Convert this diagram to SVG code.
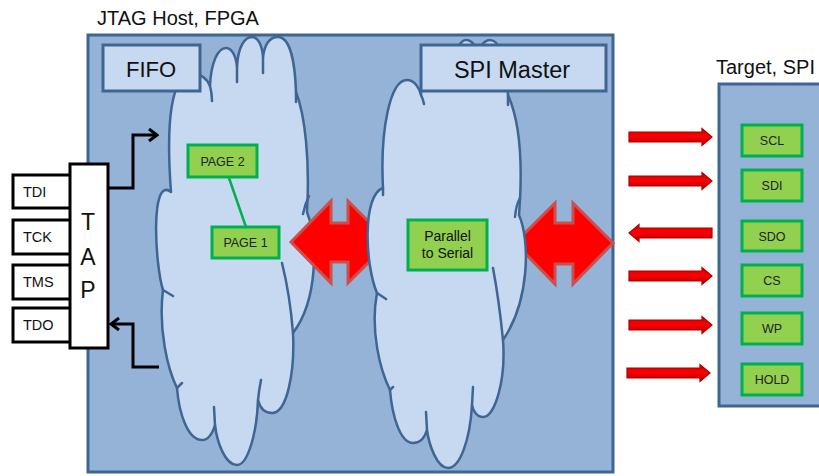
<svg xmlns="http://www.w3.org/2000/svg" xmlns:xlink="http://www.w3.org/1999/xlink" width="819" height="476" viewBox="0 0 819 476">
<style>
text{font-family:"Liberation Sans",Arial,sans-serif;fill:#111}
.panel{fill:#95B3D7;stroke:#3F6592;stroke-width:3}
.lbl{fill:#C6D9F1;stroke:#3F6592;stroke-width:3}
.cloud{fill:#C6D9F1;stroke:#3F6592;stroke-width:2.5;stroke-linejoin:round}
.inner{fill:none;stroke:#3F6592;stroke-width:2.5;stroke-linecap:round}
.g{fill:#92D050;stroke:#00B050;stroke-width:3}
.gt{font-size:12.5px;text-anchor:middle;fill:#222}
.wb{fill:#fff;stroke:#000;stroke-width:3}
.wt{font-size:14.5px}
.title{font-size:20px}
.big{fill:#FF0000;stroke:#C9504D;stroke-width:3;stroke-linejoin:miter}
.blk{fill:none;stroke:#000;stroke-width:3;marker-end:url(#chev)}
</style>
<defs>
<marker id="chev" viewBox="0 0 12 14" refX="10" refY="7" markerWidth="12" markerHeight="14" markerUnits="userSpaceOnUse" orient="auto">
<path d="M2,1 L10,7 L2,13" fill="none" stroke="#000" stroke-width="3"/>
</marker>
<linearGradient id="rg" x1="0" y1="0" x2="0" y2="1">
<stop offset="0" stop-color="#C00000"/>
<stop offset="0.45" stop-color="#FF0000"/>
<stop offset="1" stop-color="#B00000"/>
</linearGradient>
<path id="sa" d="M0,-5 H73 V-8.5 L83,0 L73,8.5 V5 H0 Z" fill="url(#rg)" stroke="#B00000" stroke-width="1.2"/>
</defs>

<g id="fpga-host">
<text class="title" x="97" y="25">JTAG Host, FPGA</text>
<rect class="panel" x="88" y="35" width="525" height="437"/>
</g>

<g id="fifo-cloud">
<path class="cloud" d="M171,192 C166,125 170,74 193,74 C201,74 207,79 210,86 C211,62 218,48 226,48 C232,48 236,56 237,67 C238,46 245,37 252,37 C258,37 262,45 263,57 C265,42 271,37 278,37 C290,37 295,62 296,92 C305,115 310,160 307,212 C318,240 318,300 293,333 C295,372 287,413 272,413 C265,413 260,408 258,400 C257,432 248,465 237,465 C225,465 217,442 215,425 C212,435 207,440 202,440 C188,440 179,414 177,388 C168,370 158,330 163,290 C155,265 150,175 171,192 Z"/>
<path class="inner" d="M210,86 Q212,93 212,101 M237,67 L237,82 M263,57 L263,73 M296,92 Q296,97 296,102 M303,214 Q305,204 309,196 M293,333 Q290,295 282,263 M258,400 Q259,390 261,380 M215,425 L214,407 M177,388 L182,383 M163,290 L173,296"/>
</g>

<g id="connectors">
<path class="blk" d="M108,188 H133 V135 H157"/>
<path class="blk" d="M159,367 H133 V324 H111"/>
<line x1="229" y1="178" x2="246" y2="227" stroke="#00B050" stroke-width="2.5"/>
<path class="big" d="M291,242 L331,201 V223 H348 V201 L389,242 L348,283 V262 H331 V283 Z"/>
<path class="big" d="M515,243 L555,203 V223 H573 V203 L613,243 L573,284 V264 H555 V284 Z"/>
<use xlink:href="#sa" href="#sa" transform="translate(629,137)"/>
<use xlink:href="#sa" href="#sa" transform="translate(629,181)"/>
<use xlink:href="#sa" href="#sa" transform="translate(712,233) scale(-1,1)"/>
<use xlink:href="#sa" href="#sa" transform="translate(629,276)"/>
<use xlink:href="#sa" href="#sa" transform="translate(629,325)"/>
<use xlink:href="#sa" href="#sa" transform="translate(627,373)"/>
</g>

<g id="spi-cloud">
<path class="cloud" d="M383,188 C380,130 390,80 407,80 C414,80 419,87 421,95 C422,65 432,50 442,50 C450,50 454,57 455,65 C456,48 461,40 466,40 C472,40 477,47 478,55 C479,46 485,40 490,40 C500,40 506,60 508,95 C517,115 524,150 519,215 C530,240 530,300 503,340 C506,380 495,417 483,417 C477,417 473,411 472,405 C470,440 460,468 448,468 C437,468 429,445 427,430 C424,440 418,443 413,443 C400,443 392,415 390,390 C380,370 370,330 377,293 C365,265 362,195 383,188 Z"/>
<path class="inner" d="M421,95 Q423,99 424,104 M508,95 L508,105 M515,217 Q516,205 520,198 M503,340 Q499,300 493,268 M472,405 L473,387 M427,430 L426,412 M390,390 L393,387 M377,293 L386,299 M383,188 L383,195"/>
</g>

<g id="fifo-label">
<rect class="lbl" x="103" y="45" width="97" height="46"/>
<text x="151" y="77" font-size="22" text-anchor="middle">FIFO</text>
</g>
<g id="spi-master-label">
<rect class="lbl" x="421" y="45" width="185" height="46"/>
<text x="512" y="78" font-size="23.5" text-anchor="middle">SPI Master</text>
</g>

<g id="page2">
<rect class="g" x="188" y="145" width="69" height="32"/>
<text class="gt" x="222.5" y="166">PAGE 2</text>
</g>
<g id="page1">
<rect class="g" x="212" y="227" width="67" height="31"/>
<text class="gt" x="245.5" y="247">PAGE 1</text>
</g>
<g id="parallel-to-serial">
<rect class="g" x="408" y="220" width="79" height="50"/>
<text x="447.5" y="241" font-size="14" text-anchor="middle" fill="#222">Parallel</text>
<text x="447.5" y="258" font-size="14" text-anchor="middle" fill="#222">to Serial</text>
</g>

<g id="tdi"><rect class="wb" x="13" y="175" width="62" height="33"/><text class="wt" x="23" y="197">TDI</text></g>
<g id="tck"><rect class="wb" x="13" y="220" width="62" height="34"/><text class="wt" x="23" y="242">TCK</text></g>
<g id="tms"><rect class="wb" x="13" y="265" width="62" height="34"/><text class="wt" x="23" y="287">TMS</text></g>
<g id="tdo"><rect class="wb" x="13" y="308" width="62" height="34"/><text class="wt" x="23" y="330">TDO</text></g>
<g id="tap">
<rect class="wb" x="70" y="164" width="38" height="184"/>
<text x="88" y="230" font-size="23" text-anchor="middle">T</text>
<text x="88" y="265" font-size="23" text-anchor="middle">A</text>
<text x="88" y="298" font-size="23" text-anchor="middle">P</text>
</g>

<g id="target">
<text class="title" x="716" y="74">Target, SPI</text>
<rect class="panel" x="719" y="84" width="115" height="322"/>
</g>
<g id="scl"><rect class="g" x="742" y="125" width="60" height="31"/><text class="gt" x="772" y="145">SCL</text></g>
<g id="sdi"><rect class="g" x="742" y="170" width="60" height="31"/><text class="gt" x="772" y="190">SDI</text></g>
<g id="sdo"><rect class="g" x="742" y="221" width="60" height="30"/><text class="gt" x="772" y="241">SDO</text></g>
<g id="cs"><rect class="g" x="742" y="265" width="60" height="31"/><text class="gt" x="772" y="285">CS</text></g>
<g id="wp"><rect class="g" x="742" y="313" width="60" height="31"/><text class="gt" x="772" y="333">WP</text></g>
<g id="hold"><rect class="g" x="742" y="364" width="60" height="31"/><text class="gt" x="772" y="384">HOLD</text></g>
</svg>
